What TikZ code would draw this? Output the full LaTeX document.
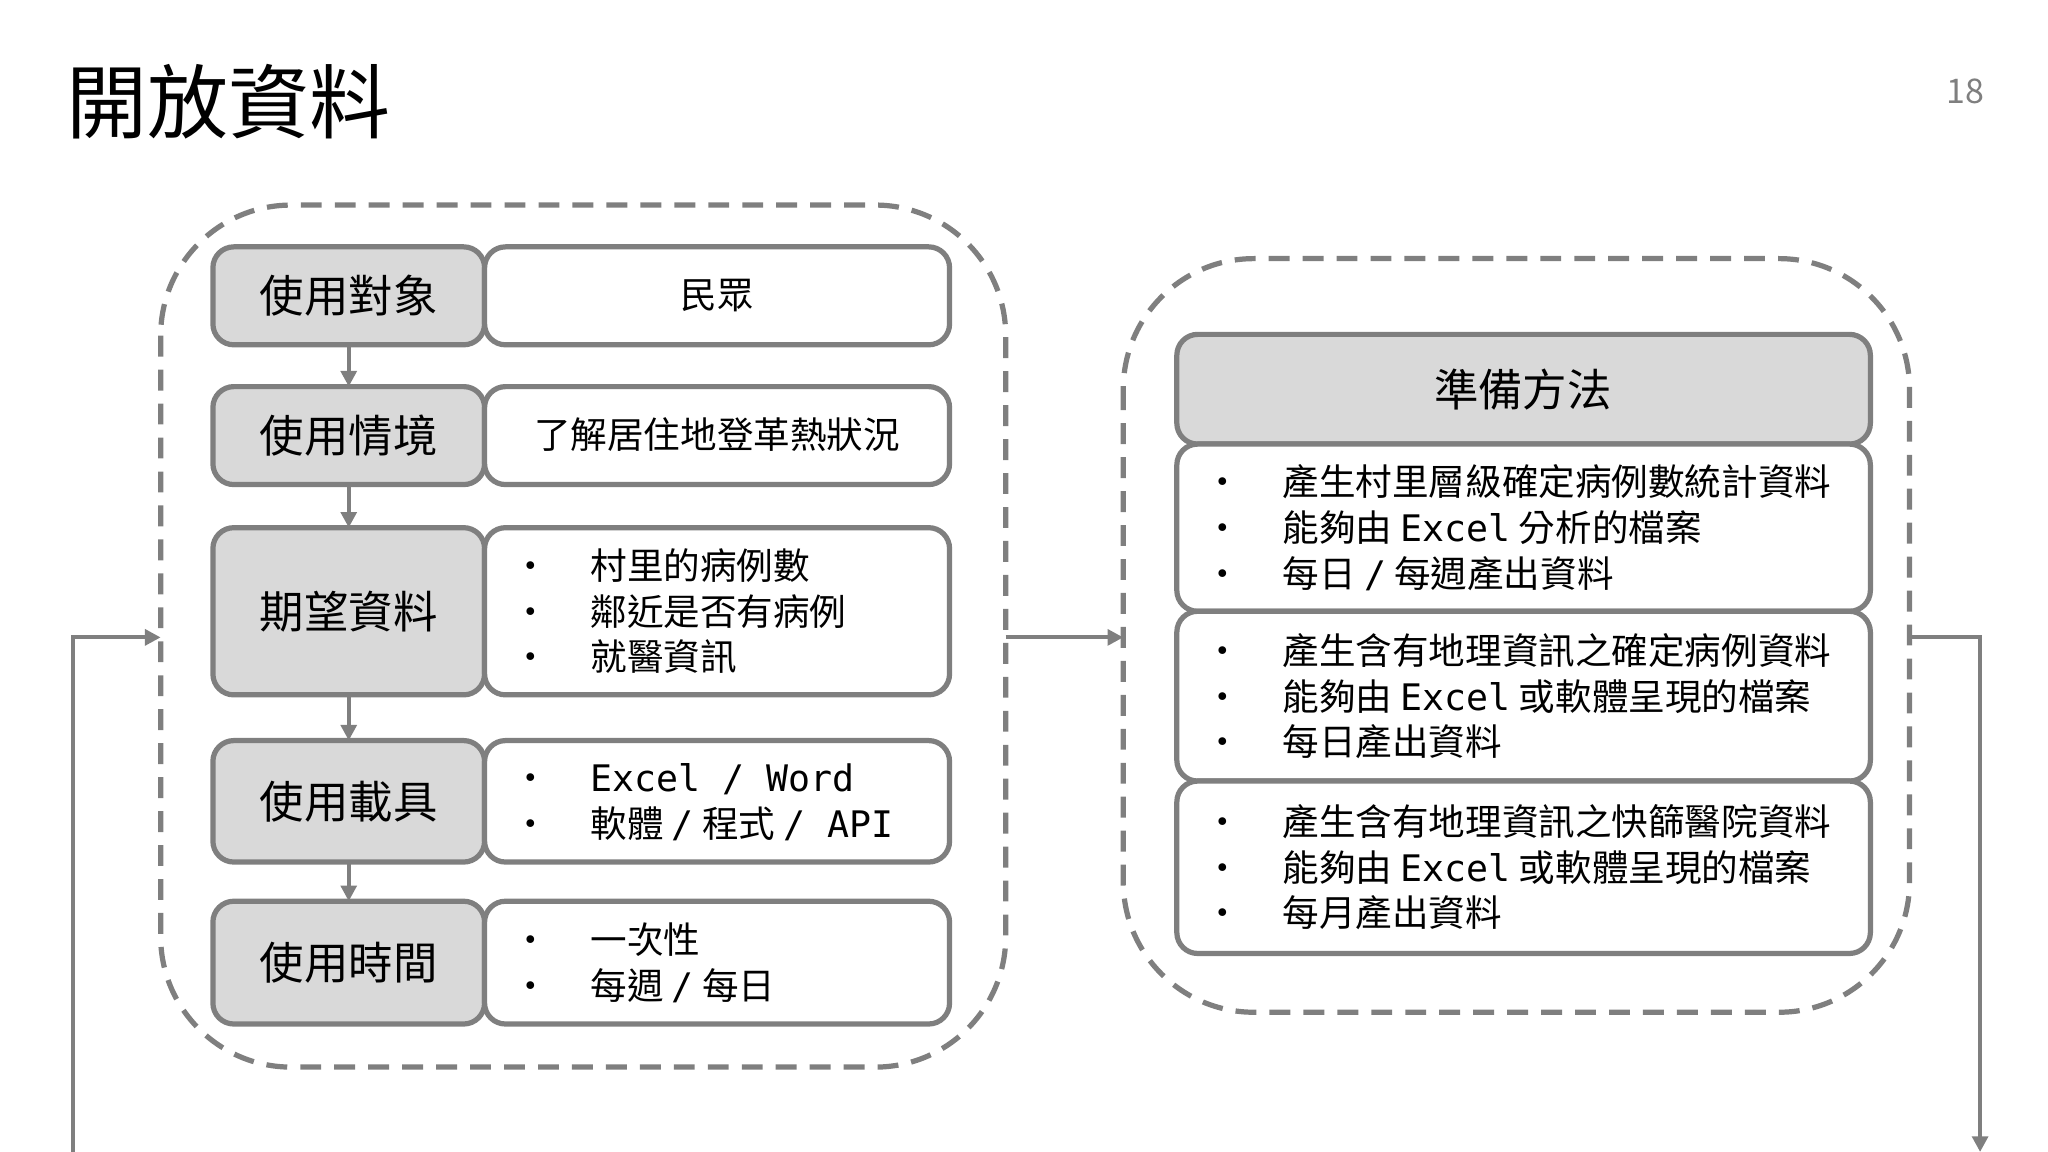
\documentclass[tikz,border=0pt]{standalone}
\usepackage{fontspec}
\setmainfont{Noto Sans CJK TC}
\newfontfamily\monof{DejaVu Sans Mono}
\newcommand{\mo}[1]{{\monof #1}}
\usetikzlibrary{arrows.meta}
\definecolor{bd}{HTML}{7F7F7F}
\definecolor{fl}{HTML}{D9D9D9}
\tikzset{
 dashbox/.style={draw=bd,line width=2pt,dash pattern=on 8pt off 5pt,rounded corners=50pt},
 lab/.style={draw=bd,fill=fl,line width=2pt,rounded corners=8pt,font=\fontsize{17}{20}\selectfont},
 val/.style={draw=bd,fill=white,line width=2pt,rounded corners=8pt,font=\fontsize{14}{17}\selectfont},
 arr/.style={draw=bd,line width=1.5pt,-{Triangle[length=6pt,width=6pt]}},
}
\begin{document}
\begin{tikzpicture}[x=0.5pt,y=-0.5pt]
\useasboundingbox (0,0) rectangle (1568,882);
\node[anchor=west,font=\fontsize{31}{36}\selectfont] (title) at (44,78) {開放資料};
\node[text=bd,font=\fontsize{13}{15}\selectfont] (pg) at (1505,70) {18};
% left dashed
\draw[dashbox] (123,157) rectangle (770,817);
\coordinate (LL) at (123,488); \coordinate (LR) at (770,488);
\foreach \n/\t/\b/\txt in {a/189/264/使用對象,b/296/371/使用情境,c/404/532/期望資料,d/567/660/使用載具,e/690/784/使用時間}{
 \draw[lab] (163,\t) rectangle (371,\b);
 \node[font=\fontsize{17}{20}\selectfont] (\n) at (267,{(\t+\b)/2}) {\txt};
 \coordinate (\n t) at (267,\t); \coordinate (\n b) at (267,\b);
}
\draw[val] (371,189) rectangle (727,264);
\node[font=\fontsize{14}{17}\selectfont] (va) at (549,226) {民眾};
\draw[val] (371,296) rectangle (727,371);
\node[font=\fontsize{14}{17}\selectfont] (vb) at (549,333) {了解居住地登革熱狀況};
\draw[val] (371,404) rectangle (727,532);
\node[anchor=west,align=left,font=\fontsize{14}{17.5}\selectfont] (vc) at (385,468) {•\hspace{16pt}村里的病例數\\•\hspace{16pt}鄰近是否有病例\\•\hspace{16pt}就醫資訊};
\draw[val] (371,567) rectangle (727,660);
\node[anchor=west,align=left,font=\fontsize{14}{17.5}\selectfont] (vd) at (385,614) {•\hspace{16pt}\mo{Excel / Word}\\•\hspace{16pt}軟體 \mo{/} 程式 \mo{/ API}};
\draw[val] (371,690) rectangle (727,784);
\node[anchor=west,align=left,font=\fontsize{14}{17.5}\selectfont] (ve) at (385,737) {•\hspace{16pt}一次性\\•\hspace{16pt}每週 \mo{/} 每日};
\draw[arr] (ab) -- (bt); \draw[arr] (bb) -- (ct); \draw[arr] (cb) -- (dt); \draw[arr] (db) -- (et);
% right dashed
\draw[dashbox] (860,198) rectangle (1462,775);
\coordinate (RL) at (860,488); \coordinate (RR) at (1462,488);
\draw[lab] (901,256) rectangle (1432,340);
\node[font=\fontsize{17}{20}\selectfont] (hd) at (1166,298) {準備方法};
\draw[val] (901,340) rectangle (1432,468);
\node[anchor=west,align=left,font=\fontsize{14}{17.5}\selectfont] (r1) at (915,404) {•\hspace{16pt}產生村里層級確定病例數統計資料\\•\hspace{16pt}能夠由 \mo{Excel} 分析的檔案\\•\hspace{16pt}每日 \mo{/} 每週產出資料};
\draw[val] (901,468) rectangle (1432,598);
\node[anchor=west,align=left,font=\fontsize{14}{17.5}\selectfont] (r2) at (915,533) {•\hspace{16pt}產生含有地理資訊之確定病例資料\\•\hspace{16pt}能夠由 \mo{Excel} 或軟體呈現的檔案\\•\hspace{16pt}每日產出資料};
\draw[val] (901,598) rectangle (1432,730);
\node[anchor=west,align=left,font=\fontsize{14}{17.5}\selectfont] (r3) at (915,664) {•\hspace{16pt}產生含有地理資訊之快篩醫院資料\\•\hspace{16pt}能夠由 \mo{Excel} 或軟體呈現的檔案\\•\hspace{16pt}每月產出資料};
% connectors
\draw[arr] (LR) -- (RL);
\coordinate (s) at (56,882);
\draw[arr] (s) |- (LL);
\coordinate (e) at (1516,882);
\draw[arr] (RR) -| (e);
\end{tikzpicture}
\end{document}
